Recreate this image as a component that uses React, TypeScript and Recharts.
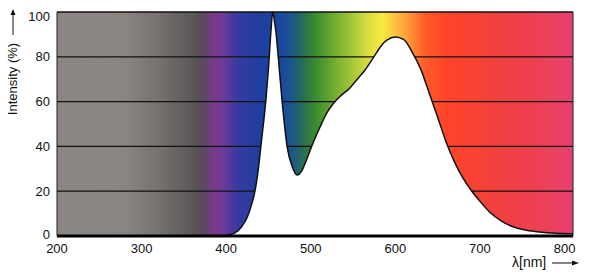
import React from "react";
import {
  AreaChart,
  Area,
  XAxis,
  YAxis,
  CartesianGrid,
  ReferenceLine,
} from "recharts";

// wavelength (nm) and relative intensity (%)
const wavelengths = [
  200, 300, 380, 400, 405, 410, 418, 425, 430, 434, 438, 441, 444, 447, 450,
  453, 455, 457, 459, 462, 466, 472, 478, 484, 490, 495, 501, 511, 518, 526,
  535, 546, 555, 564, 572, 578, 584, 590, 600, 610, 620, 630, 640, 650, 660,
  670, 680, 690, 700, 712, 725, 740, 755, 770, 790, 810,
];
const intensity = [
  0, 0, 0, 0.3, 0.7, 1.3, 4, 8.5, 14, 20, 30, 40, 50, 61, 75,
  92, 100, 96, 90.6, 78, 60.7, 40, 31, 27.2, 29.5, 34, 40, 48.7, 54.3, 58.8,
  62.5, 66, 70, 74, 78.5, 82, 85.3, 87.4, 88.8, 87.7, 82, 74.5, 63.8, 53, 42,
  33, 25.8, 20.2, 15.5, 10.5, 6.8, 4, 2.6, 1.8, 1.2, 1,
];
const xTicks = [200, 300, 400, 500, 600, 700, 800];
const yTicks = [0, 20, 40, 60, 80, 100];

// background spectrum bands: wavelength -> colour
const bandNm = [
  200, 280, 320, 360, 372, 385, 398, 412, 440, 468, 480, 492, 505, 525, 550,
  570, 585, 600, 615, 635, 660, 720, 770, 810,
];
const bandColors = [
  "#8c8784", "#8a8581", "#77716f", "#5c5858", "#5a4a5a", "#7a3a8a", "#6a3a98",
  "#3a3aa0", "#1e3ea0", "#1a4aa0", "#1e5a80", "#2a7050", "#3a8a30", "#6aa830",
  "#a8c838", "#e0e040", "#f8ea40", "#fcc040", "#ff9a38", "#ff5a2a", "#ff4428",
  "#f2403e", "#ec4055", "#e84070",
];

const data = wavelengths.map((nm, i) => ({ nm, intensity: intensity[i] }));

const FONT = "'Liberation Sans', Arial, sans-serif";

// top and bottom labels sit a little inside the frame, as in the original
const YTick = (props: any) => {
  const { x, y, payload } = props;
  const nudge = payload.value === 100 ? 4 : payload.value === 0 ? -2 : 0;
  return (
    <text
      x={x}
      y={y + nudge}
      dy="0.355em"
      textAnchor="end"
      fontFamily={FONT}
      fontSize={13}
      fill="#111"
    >
      {payload.value}
    </text>
  );
};

const YLabel = () => (
  <g>
    <text
      x={0}
      y={0}
      transform="translate(17, 79) rotate(-90)"
      textAnchor="middle"
      fontFamily={FONT}
      fontSize={13}
      fill="#111"
    >
      Intensity (%)
    </text>
    <line x1={13} y1={35} x2={13} y2={13} stroke="#111" strokeWidth={1} />
    <path d="M10.5 15 L13 9 L15.5 15 Z" fill="#111" />
  </g>
);

const XLabel = () => (
  <g>
    <text x={512} y={267} fontFamily={FONT} fontSize={14} fill="#111">
      λ[nm]
    </text>
    <line x1={552} y1={263} x2={574} y2={263} stroke="#111" strokeWidth={1} />
    <path d="M572 260.5 L579 263 L572 265.5 Z" fill="#111" />
  </g>
);

export default function App() {
  return (
    <div style={{ position: "absolute", left: 0, top: 0, background: "#fff" }}>
      <AreaChart
        width={600}
        height={278}
        data={data}
        margin={{ top: 12, right: 27, left: 0, bottom: 0 }}
      >
        <defs>
          <linearGradient id="spectrum" x1="0" y1="0" x2="1" y2="0">
            {bandNm.map((nm, i) => (
              <stop
                key={nm}
                offset={(nm - 200) / 610}
                stopColor={bandColors[i]}
              />
            ))}
          </linearGradient>
        </defs>
        <CartesianGrid
          vertical={false}
          fill="url(#spectrum)"
          fillOpacity={1}
          stroke="#111"
          strokeWidth={1.3}
        />
        <XAxis
          dataKey="nm"
          type="number"
          domain={[200, 810]}
          ticks={xTicks}
          height={42}
          tickLine={false}
          tickSize={0}
          tickMargin={8}
          axisLine={{ stroke: "#000", strokeWidth: 3 }}
          tick={{ fill: "#111", fontSize: 13, fontFamily: FONT }}
          label={{ content: XLabel }}
        />
        <YAxis
          domain={[0, 100]}
          ticks={yTicks}
          width={57}
          tickLine={false}
          tickSize={0}
          tickMargin={7}
          axisLine={{ stroke: "#222", strokeWidth: 1 }}
          tick={YTick}
          label={{ content: YLabel }}
        />
        <Area
          type="monotone"
          dataKey="intensity"
          fill="#fff"
          fillOpacity={1}
          stroke="#111"
          strokeWidth={1.5}
          isAnimationActive={false}
          dot={false}
          activeDot={false}
        />
        <ReferenceLine x={810} stroke="#222" strokeWidth={1} />
      </AreaChart>
    </div>
  );
}
